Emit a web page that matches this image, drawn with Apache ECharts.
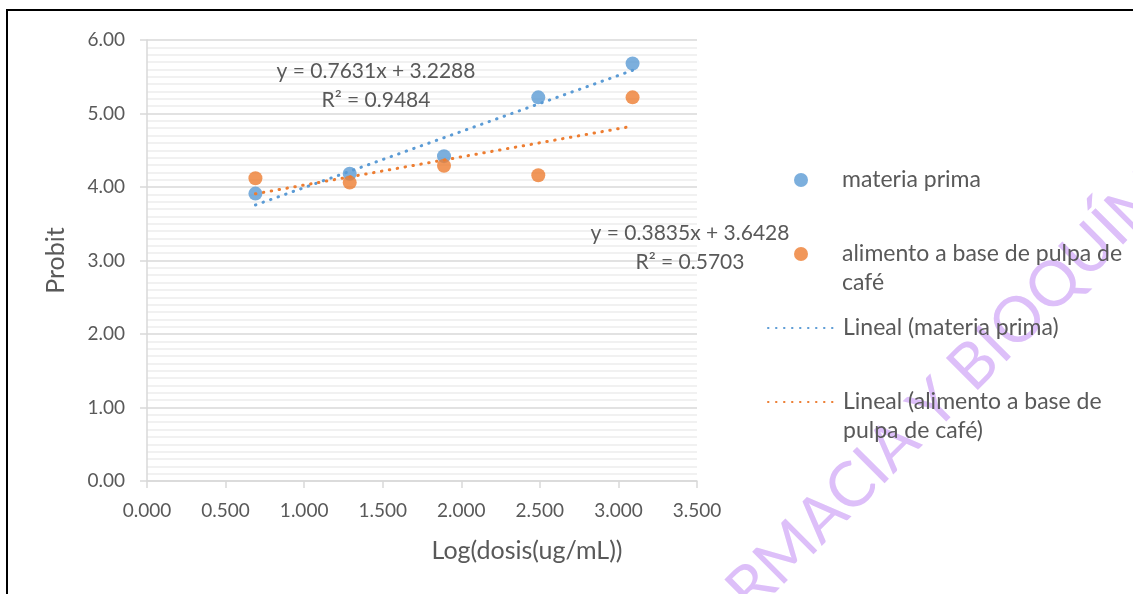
<!DOCTYPE html>
<html><head><meta charset="utf-8">
<script src="https://cdn.jsdelivr.net/npm/echarts@6/dist/echarts.min.js"></script>
<style>html,body{margin:0;padding:0;background:#fff}#c{width:1133px;height:594px}</style>
</head><body><div id="c"></div>
<script>
// ---- data ----
const logDosis = [0.69, 1.29, 1.89, 2.49, 3.09];
const probitMateria = [3.91, 4.18, 4.42, 5.22, 5.68];
const probitAlimento = [4.12, 4.06, 4.29, 4.16, 5.22];
const trendMateria = [0.7631, 3.2288];   // slope, intercept (from chart label)
const trendAlimento = [0.3835, 3.6428];
const r2Values = [0.9484, 0.5703];
const seriesNames = ['materia prima', 'alimento a base de pulpa de café', 'Lineal (materia prima)', 'Lineal (alimento a base de pulpa de café)'];
const legendLabels = ['materia prima', 'alimento a base de pulpa de\ncafé', 'Lineal (materia prima)', 'Lineal (alimento a base de\npulpa de café)'];
const xTickDecimals = 3, yTickDecimals = 2;

const FONT = 'Lato';
const TXT = '#595959';
const BLUE = '#5B9BD5', ORANGE = '#ED7D31';

function pts(xs, ys) { return xs.map((x, i) => [x, ys[i]]); }
function trend(xs, c) {
  const x0 = Math.min(...xs), x1 = Math.max(...xs);
  return [[x0, c[0] * x0 + c[1]], [x1, c[0] * x1 + c[1]]];
}
function eqText(c, r2) {
  return 'y = ' + c[0].toFixed(4) + 'x + ' + c[1].toFixed(4) + '\nR² = ' + r2.toFixed(4);
}

const chart = echarts.init(document.getElementById('c'));
const dotted = { width: 3, type: [0.5, 7.5], cap: 'round' };

function legendFor(i, top, isLine) {
  const two = legendLabels[i].indexOf('\n') >= 0;
  const lg = {
    data: [seriesNames[i]], left: isLine ? 767 : 794, top: top, padding: 0,
    itemWidth: isLine ? 70 : 14, itemHeight: 14, orient: 'vertical',
    // a leading blank line keeps the symbol level with the first text line
    formatter: () => (two ? '\n' : '') + legendLabels[i],
    textStyle: { fontFamily: FONT, fontSize: 23, color: TXT, lineHeight: 29, padding: [0, 0, 0, isLine ? 0 : 29] }
  };
  if (isLine) lg.itemStyle = { opacity: 0 }; else lg.icon = 'circle';
  return lg;
}

chart.setOption({
  animation: false,
  backgroundColor: '#fff',
  grid: { left: 147, right: 436, top: 40, bottom: 113, containLabel: false },
  xAxis: {
    type: 'value', min: 0, max: 3.5, interval: 0.5,
    axisLine: { show: true, lineStyle: { color: '#D9D9D9', width: 1.5 } },
    axisTick: { show: true, length: 7, lineStyle: { color: '#D9D9D9', width: 1.5 } },
    axisLabel: { fontFamily: FONT, fontSize: 19, color: TXT, margin: 20, formatter: v => v.toFixed(xTickDecimals) },
    splitLine: { show: false },
    name: 'Log(dosis(ug/mL))', nameLocation: 'middle', nameGap: 57,
    nameTextStyle: { fontFamily: FONT, fontSize: 25, color: TXT, padding: [0, 0, 0, 210] }
  },
  yAxis: {
    type: 'value', min: 0, max: 6, interval: 1,
    axisLine: { show: true, lineStyle: { color: '#D9D9D9', width: 1.5 } },
    axisTick: { show: true, length: 7, lineStyle: { color: '#D9D9D9', width: 1.5 } },
    minorTick: { show: false, splitNumber: 10 },
    axisLabel: { fontFamily: FONT, fontSize: 19, color: TXT, margin: 22, formatter: v => v.toFixed(yTickDecimals) },
    splitLine: { show: true, lineStyle: { color: '#D9D9D9', width: 1.5 } },
    minorSplitLine: { show: true, lineStyle: { color: '#EDEDED', width: 1.5 } },
    name: 'Probit', nameLocation: 'middle', nameGap: 79, nameRotate: 90,
    nameTextStyle: { fontFamily: FONT, fontSize: 25, color: TXT }
  },
  legend: [legendFor(0, 165.5, false), legendFor(1, 210.5, false), legendFor(2, 313.5, true), legendFor(3, 358.5, true)],
  series: [
    { name: seriesNames[0], type: 'scatter', data: pts(logDosis, probitMateria), symbolSize: 14, itemStyle: { color: BLUE }, z: 2 },
    { name: seriesNames[1], type: 'scatter', data: pts(logDosis, probitAlimento), symbolSize: 14, itemStyle: { color: ORANGE }, z: 2 },
    { name: seriesNames[2], type: 'line', data: trend(logDosis, trendMateria), symbol: 'none', lineStyle: Object.assign({ color: BLUE }, dotted), itemStyle: { color: BLUE }, z: 3 },
    { name: seriesNames[3], type: 'line', data: trend(logDosis, trendAlimento), symbol: 'none', lineStyle: Object.assign({ color: ORANGE }, dotted), itemStyle: { color: ORANGE }, z: 3 }
  ],
  graphic: [
    { type: 'text', x: 376, y: 85.5, z: 10, style: { text: eqText(trendMateria, r2Values[0]), fontFamily: FONT, fontSize: 21, fill: TXT, lineHeight: 29, align: 'center', verticalAlign: 'middle' } },
    { type: 'text', x: 690, y: 247.5, z: 10, style: { text: eqText(trendAlimento, r2Values[1]), fontFamily: FONT, fontSize: 21, fill: TXT, lineHeight: 29, align: 'center', verticalAlign: 'middle' } },
    { type: 'text', x: 958, y: 381, rotation: 45 * Math.PI / 180, z: 0, silent: true,
      style: { text: 'FARMACIA Y BIOQUÍMICA', fontFamily: FONT, fontWeight: 'normal', fontSize: 63, fill: '#DDBFF9', align: 'center', verticalAlign: 'middle' } },
    { type: 'polyline', z: 20, shape: { points: [[7, 594], [7, 10], [1133, 10]] }, style: { stroke: '#000', lineWidth: 2, fill: null } }
  ]
});
</script></body></html>
